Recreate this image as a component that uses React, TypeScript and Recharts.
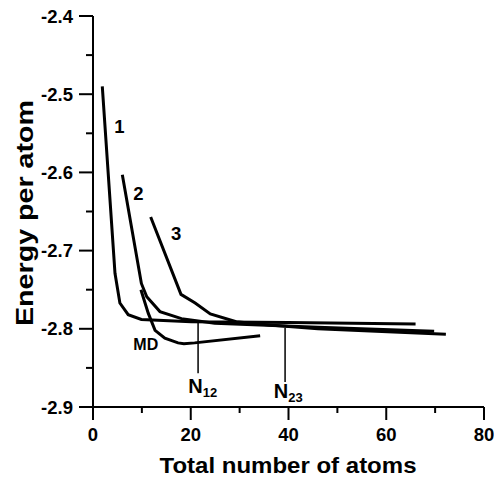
import React from 'react';
import { LineChart, Line, XAxis, YAxis, ReferenceDot } from 'recharts';

// ---- data ----
const curve1X = [1.9, 4.5, 5.5, 7.2, 9.9, 20.1, 40, 66];
const curve1Y = [-2.49, -2.729, -2.767, -2.782, -2.788, -2.791, -2.792, -2.794];

const curve2X = [6.0, 9.9, 11.0, 13.7, 18.1, 24.9, 46, 69.8];
const curve2Y = [-2.603, -2.742, -2.759, -2.778, -2.787, -2.793, -2.798, -2.803];

const curve3X = [11.8, 18.0, 20.9, 24.0, 29.3, 36.1, 46, 72.2];
const curve3Y = [-2.657, -2.756, -2.767, -2.781, -2.791, -2.795, -2.8, -2.807];

const mdX = [9.8, 11.3, 12.7, 14.7, 17.4, 18.6, 20.8, 34.2];
const mdY = [-2.75, -2.78, -2.802, -2.812, -2.818, -2.819, -2.818, -2.809];

const n12X = [21.5, 21.5];
const n12Y = [-2.791, -2.857];
const n23X = [39.3, 39.3];
const n23Y = [-2.799, -2.868];

const xTicks = [0, 10, 20, 30, 40, 50, 60, 70, 80];
const yTicks = [-2.9, -2.85, -2.8, -2.75, -2.7, -2.65, -2.6, -2.55, -2.5, -2.45, -2.4];

const curveLabels = [
  { text: '1', x: 5.4, y: -2.55, size: 18.5 },
  { text: '2', x: 9.3, y: -2.635, size: 18.5 },
  { text: '3', x: 17.0, y: -2.686, size: 18.5 },
  { text: 'MD', x: 10.8, y: -2.827, size: 16 },
];

const nLabels = [
  { main: 'N', sub: '12', x: 19.5, y: -2.882 },
  { main: 'N', sub: '23', x: 37.0, y: -2.888 },
];

const toPts = (xs: number[], ys: number[]) => xs.map((x, i) => ({ x, y: ys[i] }));

const series = [
  { name: 'c1', data: toPts(curve1X, curve1Y), w: 3 },
  { name: 'c2', data: toPts(curve2X, curve2Y), w: 3 },
  { name: 'c3', data: toPts(curve3X, curve3Y), w: 3 },
  { name: 'md', data: toPts(mdX, mdY), w: 3 },
  { name: 'n12', data: toPts(n12X, n12Y), w: 1.5 },
  { name: 'n23', data: toPts(n23X, n23Y), w: 1.5 },
];

const FONT = 'Liberation Sans, Arial, Helvetica, sans-serif';

const XTick = (props: any) => {
  const { x, y, payload } = props;
  const v = payload.value;
  const major = v % 20 === 0;
  return (
    <g>
      <line x1={x} y1={y} x2={x} y2={y + (major ? 13 : 6)} stroke="#000" strokeWidth={2} />
      {major && (
        <text x={x} y={y + 34} textAnchor="middle" fontFamily={FONT} fontWeight="bold" fontSize={18.5} fill="#000">
          {v}
        </text>
      )}
    </g>
  );
};

const YTick = (props: any) => {
  const { x, y, payload } = props;
  const v = payload.value;
  const major = Math.abs(Math.round(v * 10) - v * 10) < 1e-6;
  return (
    <g>
      <line x1={x} y1={y} x2={x - (major ? 14 : 7)} y2={y} stroke="#000" strokeWidth={2} />
      {major && (
        <text x={x - 20} y={y + 6.5} textAnchor="end" fontFamily={FONT} fontWeight="bold" fontSize={18.5} fill="#000">
          {v.toFixed(1)}
        </text>
      )}
    </g>
  );
};

export default function App() {
  return (
    <div style={{ position: 'relative', width: 502, height: 478, marginLeft: -8, marginTop: -8 }}>
      <LineChart width={502} height={478} margin={{ top: 16, right: 18, left: 0, bottom: 0 }}>
        <XAxis
          type="number"
          dataKey="x"
          domain={[0, 80]}
          ticks={xTicks}
          interval={0}
          allowDataOverflow
          tick={XTick}
          tickLine={false}
          tickSize={0}
          tickMargin={0}
          height={71}
          axisLine={{ stroke: '#000', strokeWidth: 2 }}
        />
        <YAxis
          type="number"
          dataKey="y"
          domain={[-2.9, -2.4]}
          ticks={yTicks}
          interval={0}
          allowDataOverflow
          tick={YTick}
          tickLine={false}
          tickSize={0}
          tickMargin={0}
          width={93}
          axisLine={{ stroke: '#000', strokeWidth: 2 }}
        />
        {series.map((s) => (
          <Line
            key={s.name}
            data={s.data}
            dataKey="y"
            type="linear"
            stroke="#000"
            strokeWidth={s.w}
            dot={false}
            activeDot={false}
            isAnimationActive={false}
          />
        ))}
        {curveLabels.map((l) => (
          <ReferenceDot
            key={l.text}
            x={l.x}
            y={l.y}
            r={0}
            shape={(p: any) => (
              <text x={p.cx} y={p.cy} textAnchor="middle" fontFamily={FONT} fontWeight="bold" fontSize={l.size} fill="#000">
                {l.text}
              </text>
            )}
          />
        ))}
        {nLabels.map((l) => (
          <ReferenceDot
            key={l.sub}
            x={l.x}
            y={l.y}
            r={0}
            shape={(p: any) => (
              <text x={p.cx} y={p.cy} fontFamily={FONT} fontWeight="bold" fontSize={20} fill="#000">
                {l.main}
                <tspan fontSize={13} dy={4}>{l.sub}</tspan>
              </text>
            )}
          />
        ))}
      </LineChart>
      <svg width={502} height={478} style={{ position: 'absolute', left: 0, top: 0, pointerEvents: 'none' }}>
        <text x={288} y={473} textAnchor="middle" fontFamily={FONT} fontWeight="bold" fontSize={22} fill="#000" textLength={257} lengthAdjust="spacingAndGlyphs">
          Total number of atoms
        </text>
        <text
          transform="translate(33,213) rotate(-90)"
          x={0}
          y={0}
          textAnchor="middle"
          fontFamily={FONT}
          fontWeight="bold"
          fontSize={24}
          fill="#000"
          textLength={226}
          lengthAdjust="spacingAndGlyphs"
        >
          Energy per atom
        </text>
      </svg>
    </div>
  );
}
